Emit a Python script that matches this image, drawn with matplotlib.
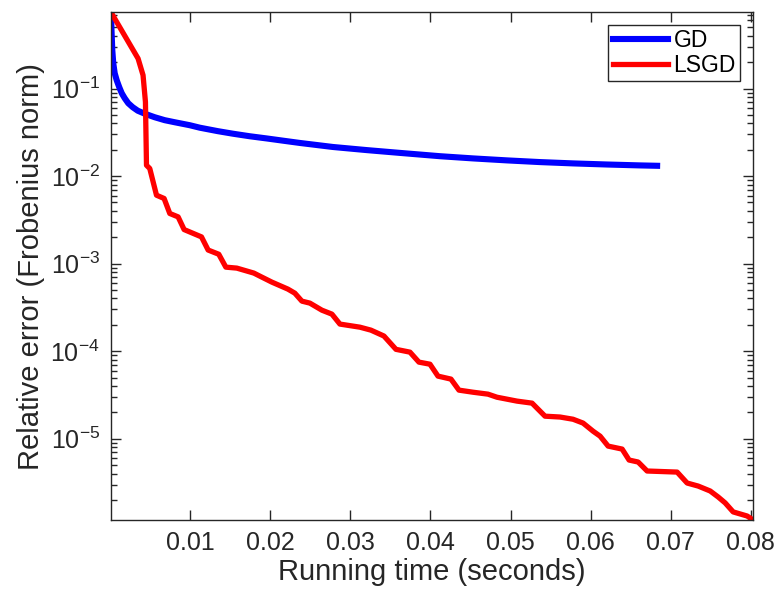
import numpy as np
import matplotlib
matplotlib.use("Agg")
import matplotlib.pyplot as plt
from matplotlib.ticker import LogLocator, NullFormatter

# data (time in seconds, relative error)
gd_time = [0.0001, 0.00016, 0.00026, 0.00038, 0.00056, 0.00081, 0.00113,
           0.00144, 0.00181, 0.00225, 0.00281, 0.00344, 0.00431, 0.00556,
           0.00681, 0.00806, 0.00994, 0.01119, 0.01344, 0.01531, 0.01744,
           0.01956, 0.02169, 0.02369, 0.02781, 0.03206, 0.03619, 0.04119,
           0.04531, 0.04956, 0.05369, 0.05781, 0.06206, 0.06619, 0.06831]
gd_err = [0.743, 0.463, 0.2735, 0.1945, 0.1495, 0.1244, 0.1035,
          0.0884, 0.0775, 0.0680, 0.0612, 0.0558, 0.0516, 0.0470,
          0.0435, 0.0412, 0.0381, 0.0357, 0.0326, 0.0305, 0.0285,
          0.0269, 0.0253, 0.0239, 0.0215, 0.0198, 0.0184, 0.01687,
          0.01592, 0.01511, 0.01445, 0.01396, 0.01356, 0.01324, 0.01311]

lsgd_time = [0.0001, 0.00348, 0.0041, 0.0044, 0.00453, 0.00494, 0.00578,
             0.00673, 0.00744, 0.00848, 0.00923, 0.0114, 0.01223, 0.01356,
             0.01444, 0.01581, 0.01794, 0.01869, 0.02019, 0.02219, 0.02306,
             0.02394, 0.02494, 0.02644, 0.02769, 0.02869, 0.03119, 0.03256,
             0.03419, 0.03569, 0.03744, 0.03856, 0.03994, 0.04094, 0.04256,
             0.04356, 0.04531, 0.04719, 0.04831, 0.05081, 0.05269, 0.05431,
             0.05619, 0.05781, 0.05906, 0.06031, 0.06119, 0.06219, 0.06394,
             0.06481, 0.06594, 0.06706, 0.07081, 0.07206, 0.07344, 0.07494,
             0.07594, 0.07681, 0.07781, 0.07956, 0.0803]
lsgd_err = [0.743, 0.220, 0.142, 0.0703, 0.0133, 0.0122, 0.00605,
            0.00555, 0.00374, 0.00342, 0.00245, 0.00202, 0.00143, 0.00128,
            9.12e-4, 8.89e-4, 7.80e-4, 7.20e-4, 6.15e-4, 5.12e-4, 4.60e-4,
            3.73e-4, 3.54e-4, 2.94e-4, 2.65e-4, 2.04e-4, 1.88e-4, 1.74e-4,
            1.49e-4, 1.05e-4, 9.75e-5, 7.5e-5, 7.1e-5, 5.19e-5, 4.80e-5,
            3.59e-5, 3.40e-5, 3.23e-5, 2.98e-5, 2.69e-5, 2.55e-5, 1.81e-5,
            1.77e-5, 1.67e-5, 1.51e-5, 1.22e-5, 1.07e-5, 8.24e-6, 7.62e-6,
            5.71e-6, 5.42e-6, 4.28e-6, 4.16e-6, 3.12e-6, 2.88e-6, 2.53e-6,
            2.16e-6, 1.85e-6, 1.46e-6, 1.31e-6, 1.18e-6]

x_ticks = [0.01, 0.02, 0.03, 0.04, 0.05, 0.06, 0.07, 0.08]

plt.rcParams['font.family'] = ['Liberation Sans', 'DejaVu Sans']
dark = '#262626'

fig = plt.figure(figsize=(7.78, 5.93), dpi=100)
ax = fig.add_axes([0.1427, 0.1231, 0.968 - 0.1427, 0.9793 - 0.1231])

ax.semilogy(gd_time, gd_err, color='#0000ff', lw=4.4, label='GD', solid_joinstyle='round')
ax.semilogy(lsgd_time, lsgd_err, color='#ff0000', lw=3.8, label='LSGD', solid_joinstyle='round')

ax.set_xlim(0.0001, 0.0803)
ax.set_ylim(1.18e-6, 0.743)
ax.set_xticks(x_ticks)
ax.set_xticklabels([f'{v:.2f}' for v in x_ticks])
ax.yaxis.set_major_locator(LogLocator(base=10))
ax.yaxis.set_minor_locator(LogLocator(base=10, subs=np.arange(2, 10)))
ax.yaxis.set_minor_formatter(NullFormatter())

ax.tick_params(which='both', direction='in', top=True, right=True,
               colors=dark, labelsize=18, width=1)
ax.tick_params(which='major', length=7, pad=8)
ax.tick_params(which='minor', length=4)
for s in ax.spines.values():
    s.set_color(dark)
    s.set_linewidth(1)

ax.set_xlabel('Running time (seconds)', fontsize=21, color=dark, labelpad=2)
ax.set_ylabel('Relative error (Frobenius norm)', fontsize=21, color=dark, labelpad=4)

leg = ax.legend(loc='upper right', fontsize=16.5, fancybox=False, framealpha=1,
                edgecolor=dark, borderaxespad=0.55, handlelength=2.4,
                handletextpad=0.25, borderpad=0.2, labelspacing=0.05)
leg.get_frame().set_linewidth(1)

fig.savefig('out.png', dpi=100)
